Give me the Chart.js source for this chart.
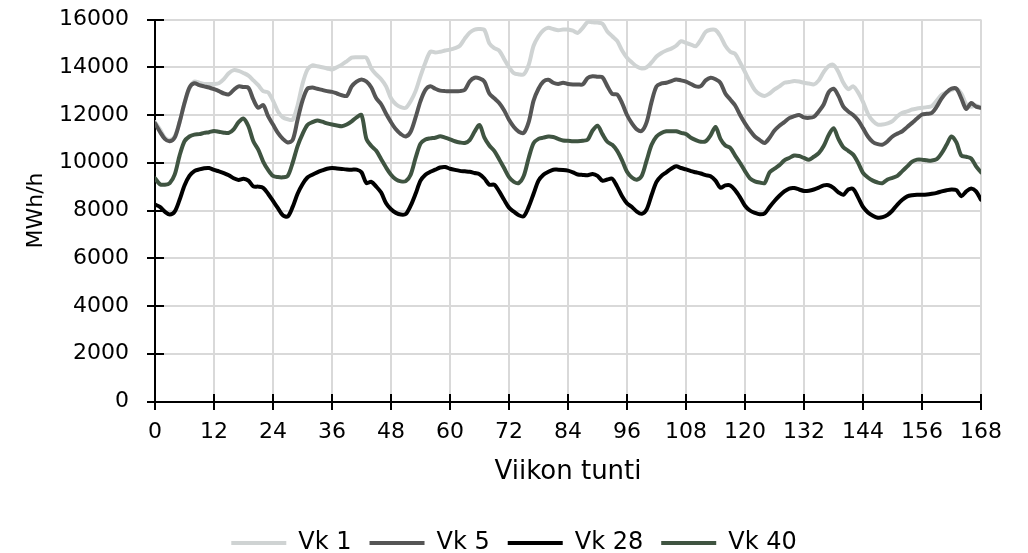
<!DOCTYPE html>
<html><head><meta charset="utf-8">
<script src="https://cdn.jsdelivr.net/npm/chart.js@4.4.1/dist/chart.umd.min.js"></script>
<style>html,body{margin:0;padding:0;background:#fff;}canvas{display:block;}</style>
</head><body>
<canvas id="c" width="1028" height="553"></canvas>
<script>
const hours = Array.from({length: 169}, (_, i) => i);
const seriesNames = ['Vk 1', 'Vk 5', 'Vk 28', 'Vk 40'];
const xAxisTitle = 'Viikon tunti';
const yAxisTitle = 'MWh/h';

const vk1 = [
11700,11400,11050,10950,11100,11700,12500,13100,13400,13350,
13300,13300,13300,13330,13500,13750,13880,13850,13760,13650,
13450,13250,13000,12950,12600,12150,11900,11820,11800,12400,
13300,13900,14080,14040,14000,13950,13900,14000,14110,14250,
14400,14420,14420,14400,13950,13700,13500,13200,12700,12450,
12330,12300,12580,13000,13630,14200,14650,14620,14650,14700,
14740,14800,14900,15200,15450,15580,15600,15560,15000,14800,
14700,14350,14000,13750,13700,13700,14100,14900,15300,15550,
15650,15600,15550,15580,15580,15530,15440,15650,15900,15880,
15870,15820,15500,15300,15100,14700,14400,14200,14030,13950,
14000,14200,14450,14600,14700,14780,14900,15090,15020,14950,
14880,15150,15480,15570,15560,15300,14900,14650,14560,14200,
13800,13400,13050,12870,12800,12900,13070,13200,13350,13380,
13420,13400,13350,13320,13280,13450,13800,14050,14100,13800,
13350,13080,13200,12950,12550,12050,11750,11600,11600,11650,
11740,11950,12090,12150,12230,12270,12300,12330,12370,12600,
12850,12950,13050,13100,12900,12450,12350,12400,12300
];
const vk5 = [
11650,11300,11000,10900,11050,11700,12500,13150,13330,13250,
13200,13150,13080,13000,12900,12860,13050,13200,13170,13140,
12650,12300,12420,11950,11600,11250,11000,10850,10950,11800,
12600,13100,13150,13100,13050,13000,12970,12900,12830,12800,
13200,13400,13490,13400,13150,12700,12450,12050,11700,11400,
11200,11100,11300,11900,12580,13050,13200,13100,13020,13000,
13000,13000,13000,13050,13400,13560,13530,13400,12900,12700,
12500,12200,11800,11500,11300,11250,11700,12600,13100,13400,
13480,13350,13300,13350,13300,13280,13280,13280,13550,13620,
13600,13580,13210,12880,12860,12500,12000,11650,11400,11330,
11700,12550,13200,13320,13350,13420,13490,13450,13400,13300,
13200,13210,13450,13560,13500,13350,12900,12650,12400,12000,
11650,11350,11100,10950,10830,11050,11350,11550,11700,11870,
11950,12000,11900,11880,11920,12150,12440,12950,13100,12800,
12350,12150,12000,11780,11450,11100,10870,10780,10760,10900,
11100,11220,11320,11500,11670,11850,12020,12050,12090,12350,
12700,12950,13100,13100,12700,12250,12500,12350,12300
];
const vk28 = [
8250,8150,7950,7830,7950,8450,9050,9450,9650,9720,
9770,9780,9700,9640,9570,9480,9350,9280,9330,9250,
9010,9000,8950,8700,8400,8100,7800,7750,8150,8700,
9100,9380,9500,9600,9680,9750,9780,9760,9740,9720,
9710,9710,9600,9150,9200,9000,8750,8300,8050,7900,
7830,7850,8200,8700,9250,9500,9620,9710,9800,9820,
9750,9700,9660,9640,9620,9570,9520,9340,9080,9080,
8800,8450,8120,7950,7800,7760,8150,8700,9250,9500,
9620,9710,9710,9700,9670,9600,9510,9490,9480,9530,
9450,9250,9300,9330,9000,8600,8300,8150,7950,7860,
8050,8650,9200,9450,9600,9750,9850,9780,9720,9650,
9600,9550,9480,9430,9250,8950,9050,9050,8850,8550,
8200,8000,7900,7840,7880,8150,8400,8620,8800,8920,
8940,8880,8820,8830,8880,8960,9050,9060,8950,8760,
8660,8880,8900,8550,8150,7920,7780,7700,7720,7820,
8000,8250,8450,8590,8640,8660,8660,8670,8700,8740,
8800,8850,8880,8850,8600,8800,8920,8800,8450
];
const vk40 = [
9350,9100,9080,9150,9500,10300,10900,11100,11180,11200,
11250,11280,11330,11300,11260,11250,11400,11700,11850,11530,
10900,10550,10050,9700,9450,9400,9390,9450,10000,10700,
11200,11580,11700,11770,11720,11650,11600,11560,11530,11600,
11730,11900,12000,11000,10700,10500,10150,9800,9500,9300,
9220,9230,9500,10200,10800,10970,11020,11050,11110,11050,
10980,10900,10850,10830,10950,11300,11580,11050,10720,10500,
10150,9780,9400,9200,9150,9450,10200,10820,11000,11050,
11100,11080,11000,10930,10920,10900,10900,10920,10970,11350,
11550,11200,10880,10750,10500,10100,9620,9380,9290,9450,
10100,10750,11100,11250,11320,11320,11320,11250,11200,11050,
10950,10880,10900,11150,11500,11000,10720,10620,10300,9990,
9650,9350,9220,9170,9150,9600,9750,9900,10100,10200,
10300,10280,10200,10130,10250,10400,10700,11150,11450,11000,
10650,10500,10340,10000,9580,9380,9250,9170,9150,9300,
9370,9450,9650,9850,10050,10130,10130,10100,10090,10150,
10400,10750,11100,10850,10300,10250,10180,9850,9600
];

const FONT = "'DejaVu Sans', Verdana, sans-serif";
const colors = ['#cfd3d3', '#555555', '#000000', '#3f5441'];
const allSeries = [vk1, vk5, vk28, vk40];

const crossTicks = {
  id: 'crossTicks',
  beforeDatasetsDraw(chart) {
    const {ctx, chartArea} = chart;
    const xs = chart.scales.x, ys = chart.scales.y;
    const ax = Math.round(chartArea.left), ay = Math.round(chartArea.bottom);
    ctx.save();
    ctx.strokeStyle = '#000';
    ctx.lineWidth = 2;
    ys.ticks.forEach(t => {
      const py = Math.round(ys.getPixelForValue(t.value));
      ctx.beginPath(); ctx.moveTo(ax - 8, py); ctx.lineTo(ax + 9, py); ctx.stroke();
    });
    xs.ticks.forEach(t => {
      const px = Math.round(xs.getPixelForValue(t.value));
      ctx.beginPath(); ctx.moveTo(px, ay - 8); ctx.lineTo(px, ay + 8); ctx.stroke();
    });
    ctx.restore();
  }
};

new Chart(document.getElementById('c'), {
  type: 'line',
  data: {
    labels: hours,
    datasets: allSeries.map((d, i) => ({
      label: seriesNames[i],
      data: d,
      borderColor: colors[i],
      backgroundColor: colors[i],
      borderWidth: 4,
      borderCapStyle: 'round',
      borderJoinStyle: 'round',
      pointRadius: 0,
      tension: 0.3,
      fill: false,
      yAxisID: 'y',
      order: 4 - i
    }))
  },
  options: {
    responsive: false,
    animation: false,
    devicePixelRatio: 1,
    layout: { padding: { left: 0, right: 0, top: 19.5, bottom: -12 } },
    plugins: {
      tooltip: { enabled: false },
      legend: {
        position: 'bottom',
        labels: {
          usePointStyle: true,
          pointStyle: 'line',
          pointStyleWidth: 55,
          boxWidth: 55,
          padding: 18,
          color: '#000',
          font: { family: FONT, size: 24 },
          sort: (a, b) => a.datasetIndex - b.datasetIndex
        }
      }
    },
    scales: {
      x: {
        type: 'linear',
        min: 0, max: 168,
        afterFit: s => { s.height = 111.5; },
        ticks: { stepSize: 12, padding: 18, color: '#000', font: { family: FONT, size: 22 }, maxRotation: 0, autoSkip: false, callback: v => String(v) },
        grid: { color: '#d9d9d9', lineWidth: 2, drawTicks: false },
        border: { color: '#000', width: 2 },
        title: { display: true, text: xAxisTitle, color: '#000', font: { family: FONT, size: 26 }, padding: { top: 0, bottom: 25 } }
      },
      y: {
        position: 'left',
        min: 0, max: 16000,
        afterFit: s => { s.width = 155; },
        ticks: { stepSize: 2000, padding: 0, color: '#000', font: { family: FONT, size: 22 }, callback: v => String(v) },
        grid: { color: '#d9d9d9', lineWidth: 2, drawTicks: true, tickLength: 26, tickColor: 'rgba(0,0,0,0)' },
        border: { color: '#000', width: 2 },
        title: { display: true, text: yAxisTitle, color: '#000', font: { family: FONT, size: 22 }, padding: { top: 23, bottom: 0 } }
      },
      yRightSpace: {
        position: 'right',
        display: true,
        afterFit: s => { s.width = 47; },
        ticks: { display: false },
        grid: { display: false, drawOnChartArea: false },
        border: { display: false },
        title: { display: false }
      }
    }
  },
  plugins: [crossTicks]
});
</script>
</body></html>
